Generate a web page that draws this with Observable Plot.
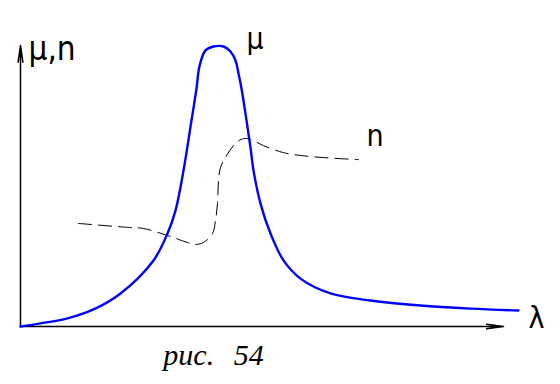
<!DOCTYPE html>
<html>
<head>
<meta charset="utf-8">
<script src="https://cdn.jsdelivr.net/npm/d3@7"></script>
<script src="https://cdn.jsdelivr.net/npm/@observablehq/plot@0.6"></script>
<style>
  html, body { margin: 0; padding: 0; background: #fff; }
  #chart svg { display: block; }
  #caption {
    width: 427px; height: 44px; text-align: center;
    font-family: "Liberation Serif", "DejaVu Serif", serif;
    font-style: italic; font-size: 30px; line-height: 30px;
    word-spacing: 12px; color: #000;
  }
</style>
</head>
<body>
<div id="chart"></div>
<div id="caption">рис. 54</div>
<script>
// μ (absorption) curve, λ in arbitrary units
const muX = [0, 0.4, 0.94, 1.46, 2.0, 2.66, 2.94, 3.1, 3.26, 3.42, 3.52, 3.58, 3.7, 3.86, 4.06, 4.2, 4.3, 4.36, 4.42, 4.52, 4.6, 4.66, 4.8, 5.0, 5.26, 5.6, 6.2, 7.0, 8.0, 9.0, 9.96];
const muY = [0, 0.11, 0.29, 0.61, 1.18, 2.36, 3.32, 4.14, 5.57, 7.36, 8.5, 9.3, 9.86, 10, 10, 9.82, 9.5, 9.04, 8.5, 7.36, 6.39, 5.57, 4.39, 3.32, 2.36, 1.71, 1.18, 0.93, 0.75, 0.64, 0.57];
// n (refractive index) curve
const nX = [1.16, 2.14, 2.46, 2.94, 3.34, 3.5, 3.66, 3.84, 3.9, 3.94, 3.96, 4.0, 4.1, 4.3, 4.46, 4.6, 4.86, 5.26, 5.8, 6.76];
const nY = [3.68, 3.54, 3.5, 3.25, 3.0, 2.93, 3.0, 3.32, 3.79, 4.39, 5.21, 5.68, 6.04, 6.54, 6.71, 6.68, 6.46, 6.21, 6.07, 5.96];
const axisLabels = ["μ,n", "λ"];
const curveLabels = ["μ", "n"];
const xAxisEnd = 9.66;
const yAxisEnd = 10.04;

const mu = muX.map((x, i) => ({x, y: muY[i]}));
const n = nX.map((x, i) => ({x, y: nY[i]}));
const peak = mu[d3.maxIndex(mu, d => d.y)];
const nEnd = n[n.length - 1];
const sans = "'Liberation Sans Narrow', 'DejaVu Sans Condensed', 'Liberation Sans', Arial, sans-serif";

const chart = Plot.plot({
  width: 560,
  height: 340,
  marginLeft: 20,
  marginRight: 40,
  marginTop: 46,
  marginBottom: 14,
  x: {domain: [0, 10], axis: null},
  y: {domain: [0, 10], axis: null},
  marks: [
    Plot.arrow([{x1: 0, y1: 0, x2: 0, y2: yAxisEnd}], {x1: "x1", y1: "y1", x2: "x2", y2: "y2", stroke: "#000", strokeWidth: 1.5, headAngle: 16, headLength: 17}),
    Plot.arrow([{x1: 0, y1: 0, x2: xAxisEnd, y2: 0}], {x1: "x1", y1: "y1", x2: "x2", y2: "y2", stroke: "#000", strokeWidth: 1.5, headAngle: 16, headLength: 17}),
    Plot.line(n, {x: "x", y: "y", stroke: "#000", strokeWidth: 1, strokeDasharray: "13,7", curve: "catmull-rom"}),
    Plot.line(mu, {x: "x", y: "y", stroke: "#0000ff", strokeWidth: 2.4, curve: "catmull-rom"}),
    Plot.text([{x: 0, y: yAxisEnd, t: axisLabels[0]}], {x: "x", y: "y", text: "t", textAnchor: "start", lineAnchor: "bottom", dx: 8, dy: 15, fontSize: 33, fontFamily: sans, fill: "#000"}),
    Plot.text([{x: xAxisEnd, y: 0, t: axisLabels[1]}], {x: "x", y: "y", text: "t", textAnchor: "start", lineAnchor: "bottom", dx: 25, dy: 1, fontSize: 30, fontFamily: sans, fill: "#000"}),
    Plot.text([{...peak, t: curveLabels[0]}], {x: "x", y: "y", text: "t", textAnchor: "start", lineAnchor: "bottom", dx: 33, dy: 2, fontSize: 30, fontFamily: sans, fill: "#000"}),
    Plot.text([{...nEnd, t: curveLabels[1]}], {x: "x", y: "y", text: "t", textAnchor: "start", lineAnchor: "bottom", dx: 8, dy: -14, fontSize: 30, fontFamily: sans, fill: "#000"})
  ]
});
document.getElementById("chart").append(chart);
</script>
</body>
</html>
